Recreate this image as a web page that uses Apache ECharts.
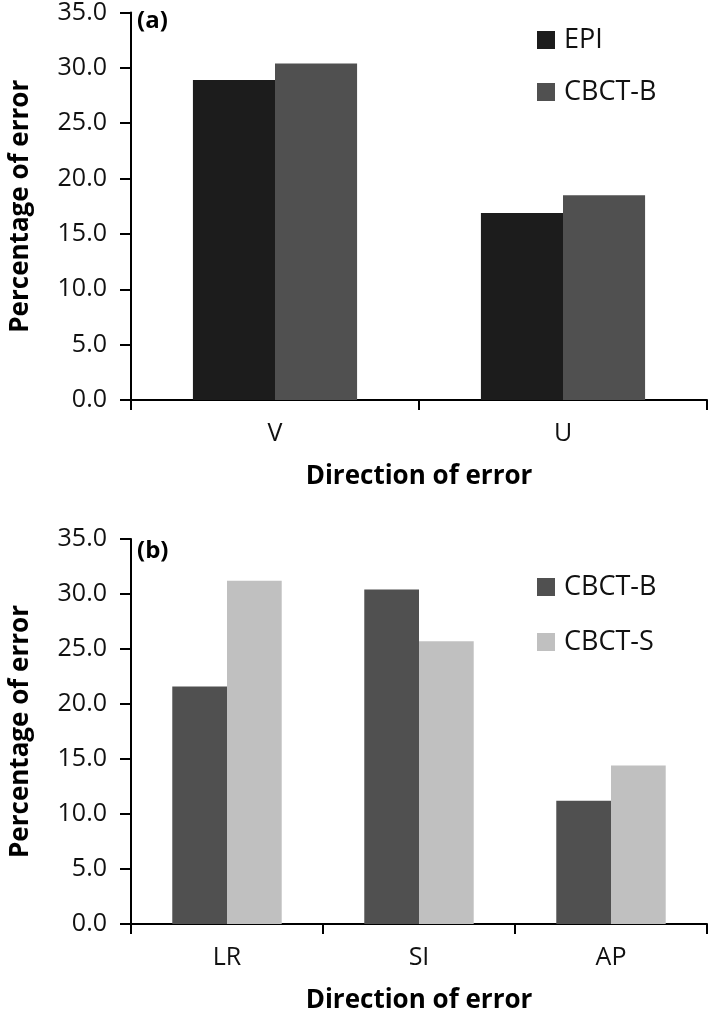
<!DOCTYPE html>
<html>
<head>
<meta charset="utf-8">
<script src="https://cdn.jsdelivr.net/npm/echarts@6/dist/echarts.min.js"></script>
<style>
html,body{margin:0;padding:0;background:#fff;}
#chart{width:709px;height:1015px;}
</style>
</head>
<body>
<div id="chart"></div>
<script>
// Panel (a)
const catsA = ['V', 'U'];
const epiA = [28.9, 16.9];
const cbctbA = [30.4, 18.5];
// Panel (b)
const catsB = ['LR', 'SI', 'AP'];
const cbctbB = [21.6, 30.4, 11.2];
const cbctsB = [31.2, 25.7, 14.4];
const yTicks = [0, 5, 10, 15, 20, 25, 30, 35];
const xTitle = 'Direction of error';
const yTitle = 'Percentage of error';

const FONT = '"Open Sans", sans-serif';
const C_EPI = '#1c1c1c', C_B = '#505050', C_S = '#c0c0c0';

const chart = echarts.init(document.getElementById('chart'));

function xAxisCfg(idx, cats) {
  return {
    type: 'category', gridIndex: idx, data: cats,
    axisLine: {lineStyle: {color: '#000', width: 2}},
    axisTick: {show: true, length: 10, lineStyle: {color: '#000', width: 2}},
    axisLabel: {color: '#111', fontSize: 25, fontFamily: FONT, margin: 21},
    name: xTitle, nameLocation: 'middle', nameGap: 64,
    nameTextStyle: {color: '#000', fontSize: 26, fontWeight: 'bold', fontFamily: FONT}
  };
}
function yAxisCfg(idx) {
  return {
    type: 'value', gridIndex: idx,
    min: yTicks[0], max: yTicks[yTicks.length - 1], interval: yTicks[1] - yTicks[0],
    axisLine: {show: true, lineStyle: {color: '#000', width: 2}},
    axisTick: {show: true, length: 11, lineStyle: {color: '#000', width: 2}},
    splitLine: {show: false},
    axisLabel: {color: '#111', fontSize: 25, fontFamily: FONT, margin: 24,
      formatter: v => v.toFixed(1)},
    name: yTitle, nameLocation: 'middle', nameGap: 97,
    nameTextStyle: {color: '#000', fontSize: 26, fontWeight: 'bold', fontFamily: FONT}
  };
}
const barBase = {type: 'bar', barGap: '0%', barCategoryGap: '43%'};

chart.setOption({
  animation: false,
  backgroundColor: '#fff',
  grid: [
    {left: 124, right: 2, top: 9, height: 391},
    {left: 124, right: 2, top: 539, height: 390}
  ],
  xAxis: [xAxisCfg(0, catsA), xAxisCfg(1, catsB)],
  yAxis: [yAxisCfg(0), yAxisCfg(1)],
  legend: [
    {data: ['EPI', 'CBCT-B'], orient: 'vertical', left: 532, top: 20,
     icon: 'rect', itemWidth: 18, itemHeight: 18, itemGap: 22,
     textStyle: {fontSize: 27, fontFamily: FONT, color: '#111', lineHeight: 30, padding: [0,0,0,4]}},
    {data: [{name: 'CBCT-B'}, {name: 'CBCT-S'}], orient: 'vertical', left: 532, top: 567,
     icon: 'rect', itemWidth: 18, itemHeight: 18, itemGap: 25,
     textStyle: {fontSize: 27, fontFamily: FONT, color: '#111', lineHeight: 30, padding: [0,0,0,4]}}
  ],
  graphic: [
    {type: 'text', left: 137, top: 9, style: {text: '(a)', fontSize: 24, fontWeight: 'bold', fontFamily: FONT, fill: '#000'}},
    {type: 'text', left: 137, top: 539, style: {text: '(b)', fontSize: 24, fontWeight: 'bold', fontFamily: FONT, fill: '#000'}}
  ],
  series: [
    Object.assign({}, barBase, {name: 'EPI', xAxisIndex: 0, yAxisIndex: 0, data: epiA, itemStyle: {color: C_EPI}}),
    Object.assign({}, barBase, {name: 'CBCT-B', xAxisIndex: 0, yAxisIndex: 0, data: cbctbA, itemStyle: {color: C_B}}),
    Object.assign({}, barBase, {name: 'CBCT-B', xAxisIndex: 1, yAxisIndex: 1, data: cbctbB, itemStyle: {color: C_B}}),
    Object.assign({}, barBase, {name: 'CBCT-S', xAxisIndex: 1, yAxisIndex: 1, data: cbctsB, itemStyle: {color: C_S}})
  ]
});
</script>
</body>
</html>
